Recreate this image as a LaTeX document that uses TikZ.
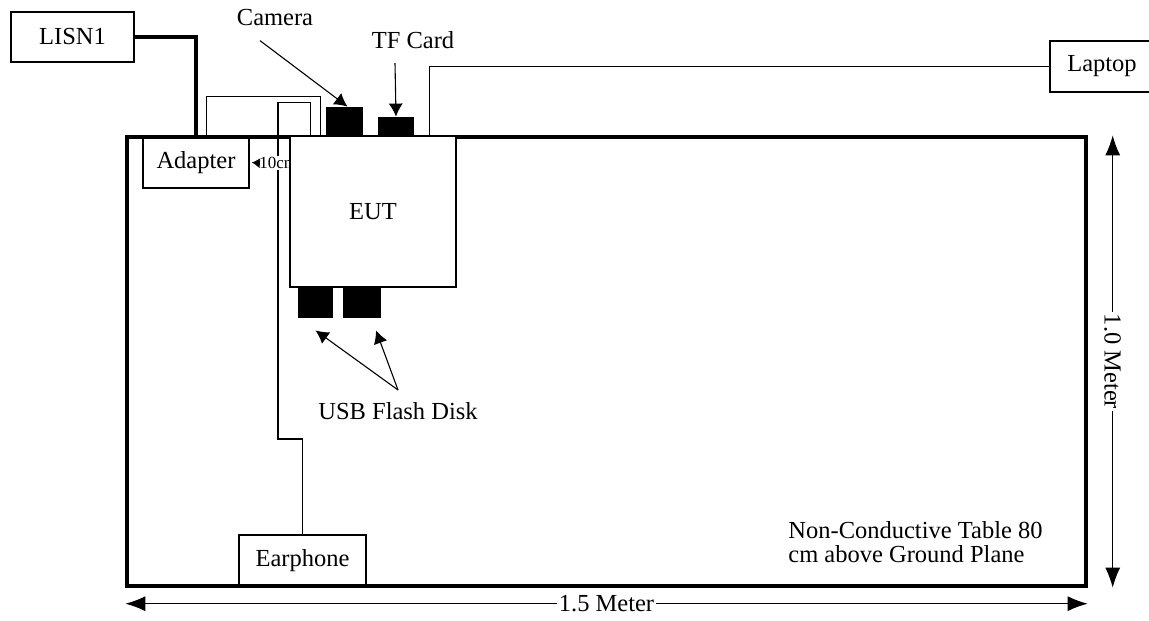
\documentclass[tikz,border=0pt]{standalone}
\usepackage{fontspec}
\setmainfont{Liberation Serif}
\usetikzlibrary{arrows.meta,positioning}
\tikzstyle{device}=[rectangle,draw,line width=0.9pt,fill=white,font=\fontsize{12.25}{12}\selectfont,inner sep=0pt]
\tikzstyle{port}=[rectangle,fill=black,inner sep=0pt]
\tikzstyle{txt}=[font=\fontsize{12.25}{12}\selectfont,inner sep=0pt]
\tikzstyle{small}=[font=\fontsize{8.5}{10}\selectfont,inner sep=0.5pt]
\tikzstyle{wire}=[draw,line width=0.55pt]
\tikzstyle{power}=[draw,line width=1.7pt]
\tikzstyle{pointer}=[->, >={Latex[length=6.5pt,width=7pt]},draw,line width=0.55pt]
\tikzstyle{dim}=[<->, >={Latex[length=10pt,width=7.5pt]},draw,line width=0.65pt]

\begin{document}
\begin{tikzpicture}[x=0.5pt,y=-0.5pt]
        \useasboundingbox (0,0) rectangle (1149,620);

        \node [device,minimum width=61.5pt,minimum height=25pt] (lisn) at (72.5,37) {LISN1};
        \node [device,minimum width=53pt,minimum height=25.5pt] (adapter) at (196,162.5) {Adapter};
        \node [device,minimum width=52pt,minimum height=25.5pt] (laptop) at (1102,66.5) {Laptop};
        \node [device,minimum width=63.5pt,minimum height=25.5pt] (earphone) at (302.5,560.5) {Earphone};
        \node [draw,line width=1.7pt,minimum width=479.5pt,minimum height=224.5pt,inner sep=0pt] (table) at (606.5,361.5) {};
        \node [device,minimum width=83pt,minimum height=75.5pt] (eut) at (373,211.5) {EUT};

        % ports on the EUT
        \node [port,minimum width=18.5pt,minimum height=14.5pt] (camera) at (344.5,121.5) {};
        \node [port,minimum width=18pt,minimum height=9.5pt] (tfcard) at (396,126.5) {};
        \node [port,minimum width=17.5pt,minimum height=15pt] (usb1) at (315.5,303) {};
        \node [port,minimum width=19pt,minimum height=15pt] (usb2) at (362,303) {};

        % cables
        \path [power] (lisn.east) -| ([xshift=27pt]adapter.north west);
        \path [wire] ([xshift=32pt]adapter.north west) -- ++(0,-40) -| ([xshift=15.5pt]eut.north west);
        \path [wire] ([xshift=10.5pt]eut.north west) -- ++(0,-33) -| (278,439) -| ([xshift=32pt]earphone.north west);
        \path [wire] ([xshift=-13.5pt]eut.north east) |- (laptop.west);

        % distance to the adapter
        \begin{scope}
          \clip (adapter.north east) rectangle ([xshift=-0.45pt]eut.south west);
          \node [small,fill=white,anchor=west] (gap) at (258,163) {10cm};
        \end{scope}
        \path [->, >={Latex[length=4pt,width=5pt]},draw,line width=0.4pt] (gap.west) -- ([xshift=1pt]adapter.east);

        \node [txt] (camtext) at (275,18) {Camera};
        \node [txt] (tftext) at (413,40) {TF Card};
        \node [txt] (usbtext) at (398,411) {USB Flash Disk};
        \node [txt,align=left,anchor=west] (note) at (788,542.5) {Non-Conductive Table 80\\cm above Ground Plane};

        \path [pointer] ([xshift=-7.5pt,yshift=-7pt]camtext.south) -- ([xshift=1.5pt]camera.north);
        \path [pointer] ([xshift=-9pt,yshift=-7pt]tftext.south) -- (tfcard.north);
        \path [pointer] ([yshift=6pt]usbtext.north) -- ([yshift=-6pt]usb1.south);
        \path [pointer] ([yshift=6pt]usbtext.north) -- ([xshift=7pt,yshift=-6pt]usb2.south);

        % table size
        \path [dim] ([yshift=-8pt]table.south west) -- ([yshift=-8pt]table.south east)
              node [midway,txt,fill=white,inner sep=1pt] (width) {1.5 Meter};
        \path [dim] ([xshift=12.5pt]table.north east) -- ([xshift=12.5pt]table.south east)
              node [midway,txt,fill=white,inner sep=1pt,rotate=-90] (depth) {1.0 Meter};
      \end{tikzpicture}
\end{document}
